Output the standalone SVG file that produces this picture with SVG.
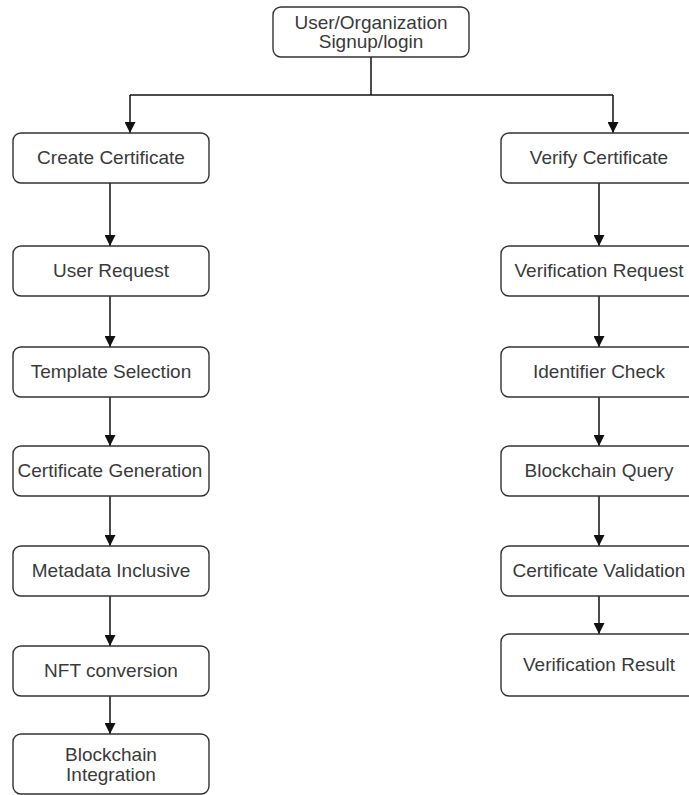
<svg xmlns="http://www.w3.org/2000/svg" width="689" height="795" viewBox="0 0 689 795">
<defs>
<style>
.box{fill:#fff;stroke:#333;stroke-width:1.4}
.lbl{font-family:"Liberation Sans",Arial,sans-serif;font-size:19px;fill:#3a3a3a;text-anchor:middle}
.con{fill:none;stroke:#111;stroke-width:1.5}
</style>
<marker id="ah" viewBox="0 0 10 10" refX="10" refY="5" markerWidth="11" markerHeight="11" markerUnits="userSpaceOnUse" orient="auto">
<path d="M0,0 L10,5 L0,10 z" fill="#111"/>
</marker>
</defs>
<rect width="689" height="795" fill="#fff"/>
<g id="connectors">
<path class="con" d="M371,57 V95"/>
<path class="con" d="M130,95 H613"/>
<path class="con" d="M130,95 V133" marker-end="url(#ah)"/>
<path class="con" d="M613,95 V133" marker-end="url(#ah)"/>
<path class="con" d="M110,183 V246" marker-end="url(#ah)"/>
<path class="con" d="M110,296 V347" marker-end="url(#ah)"/>
<path class="con" d="M110,397 V446" marker-end="url(#ah)"/>
<path class="con" d="M110,496 V546" marker-end="url(#ah)"/>
<path class="con" d="M110,596 V646" marker-end="url(#ah)"/>
<path class="con" d="M110,696 V734" marker-end="url(#ah)"/>
<path class="con" d="M599,183 V246" marker-end="url(#ah)"/>
<path class="con" d="M599,296 V347" marker-end="url(#ah)"/>
<path class="con" d="M599,397 V446" marker-end="url(#ah)"/>
<path class="con" d="M599,496 V546" marker-end="url(#ah)"/>
<path class="con" d="M599,596 V634" marker-end="url(#ah)"/>
</g>
<g id="n-signup"><rect class="box" x="273" y="7" width="196" height="50" rx="8"/><text class="lbl" x="371" y="29">User/Organization</text><text class="lbl" x="371" y="48">Signup/login</text></g>
<g id="n-create"><rect class="box" x="13" y="133" width="196" height="50" rx="8"/><text class="lbl" x="111" y="164">Create Certificate</text></g>
<g id="n-userreq"><rect class="box" x="13" y="246" width="196" height="50" rx="8"/><text class="lbl" x="111" y="277">User Request</text></g>
<g id="n-template"><rect class="box" x="13" y="347" width="196" height="50" rx="8"/><text class="lbl" x="111" y="378">Template Selection</text></g>
<g id="n-generation"><rect class="box" x="13" y="446" width="196" height="50" rx="8"/><text class="lbl" x="110" y="477">Certificate Generation</text></g>
<g id="n-metadata"><rect class="box" x="13" y="546" width="196" height="50" rx="8"/><text class="lbl" x="111" y="577">Metadata Inclusive</text></g>
<g id="n-nft"><rect class="box" x="13" y="646" width="196" height="50" rx="8"/><text class="lbl" x="111" y="677">NFT conversion</text></g>
<g id="n-bcint"><rect class="box" x="13" y="734" width="196" height="60" rx="8"/><text class="lbl" x="111" y="761">Blockchain</text><text class="lbl" x="111" y="781">Integration</text></g>
<g id="n-verify"><rect class="box" x="501" y="133" width="196" height="50" rx="8"/><text class="lbl" x="599" y="164">Verify Certificate</text></g>
<g id="n-verreq"><rect class="box" x="501" y="246" width="196" height="50" rx="8"/><text class="lbl" x="599" y="277">Verification Request</text></g>
<g id="n-ident"><rect class="box" x="501" y="347" width="196" height="50" rx="8"/><text class="lbl" x="599" y="378">Identifier Check</text></g>
<g id="n-bcquery"><rect class="box" x="501" y="446" width="196" height="50" rx="8"/><text class="lbl" x="599" y="477">Blockchain Query</text></g>
<g id="n-validation"><rect class="box" x="501" y="546" width="196" height="50" rx="8"/><text class="lbl" x="599" y="577">Certificate Validation</text></g>
<g id="n-result"><rect class="box" x="501" y="634" width="196" height="62" rx="8"/><text class="lbl" x="599" y="671">Verification Result</text></g>
</svg>
